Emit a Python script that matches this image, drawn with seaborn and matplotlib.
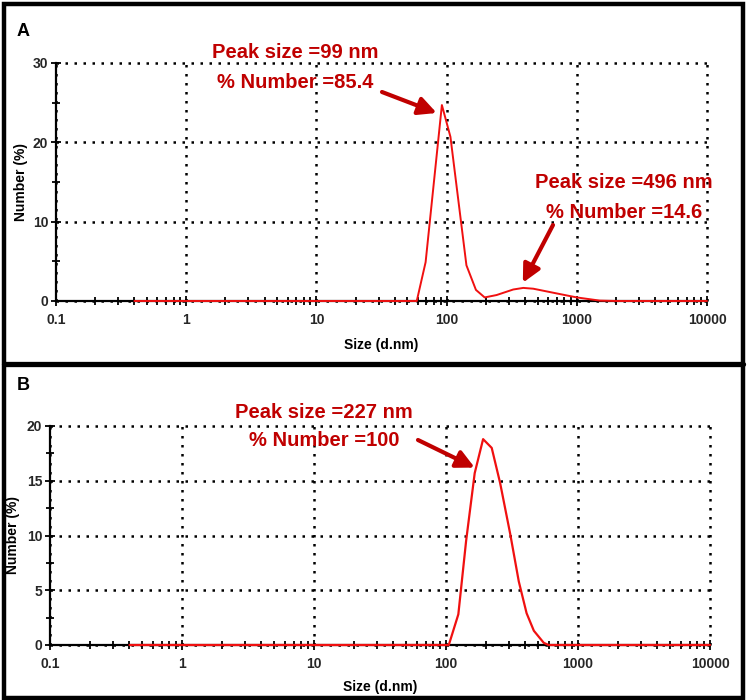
import numpy as np
import pandas as pd
import matplotlib
matplotlib.use("Agg")
import matplotlib.pyplot as plt
import matplotlib.ticker as mticker
from matplotlib.patches import Rectangle
from matplotlib.lines import Line2D
import seaborn as sns

size_a = [0.4, 1, 10, 50, 59, 69, 92, 107, 142, 168, 196, 242, 325, 388, 463, 703, 1000, 1500, 2000, 5000, 10000]
number_a = [0, 0, 0, 0, 0, 4.9, 24.7, 20.7, 4.5, 1.4, 0.45, 0.75, 1.45, 1.65, 1.55, 0.95, 0.45, 0.05, 0, 0, 0]

size_b = [0.4, 1, 10, 105, 124, 142, 165, 191, 222, 257, 307, 356, 408, 463, 550, 598, 1000, 10000]
number_b = [0, 0, 0, 0, 2.8, 9.5, 15.7, 18.8, 18.0, 14.8, 10.1, 5.8, 2.9, 1.3, 0.2, 0, 0, 0]

x_ticks = [0.1, 1, 10, 100, 1000, 10000]
x_ticklabels = ["0.1", "1", "10", "100", "1000", "10000"]

notes_a = ["Peak size =99 nm", "% Number =85.4"]
notes_a2 = ["Peak size =496 nm", "% Number =14.6"]
notes_b = ["Peak size =227 nm", "% Number =100"]

df_a = pd.DataFrame({"size": size_a, "number": number_a})
df_b = pd.DataFrame({"size": size_b, "number": number_b})

sns.set_theme(style="white")
plt.rcParams["font.family"] = ["Liberation Sans", "DejaVu Sans"]

W, H = 748, 700
fig = plt.figure(figsize=(W / 100, H / 100), dpi=100)

def px_axes(left, top, right, bottom):
    return fig.add_axes([left / W, 1 - bottom / H, (right - left) / W, (bottom - top) / H])

ax_a = px_axes(56, 63, 707, 301)
ax_b = px_axes(50, 426, 710, 645)

NOTE_RED = "#C00000"
LINE_RED = "#F01010"
note_font = dict(family=["Liberation Sans", "DejaVu Sans"],
                 fontsize=14.5, fontweight="bold", color=NOTE_RED)


def style_axes(ax, ymax, ystep, yminor, xlab_y, ylab_x):
    ax.set_xscale("log")
    ax.set_xlim(0.1, 10000)
    ax.set_ylim(0, ymax)
    ax.set_xticks(x_ticks)
    ax.set_xticklabels(x_ticklabels)
    ax.xaxis.set_minor_locator(mticker.LogLocator(base=10, subs=np.arange(2, 10), numticks=20))
    ax.xaxis.set_minor_formatter(mticker.NullFormatter())
    ax.set_yticks(np.arange(0, ymax + 0.1, ystep))
    ax.yaxis.set_minor_locator(mticker.MultipleLocator(yminor))
    ax.tick_params(axis="both", which="both", bottom=True, left=True, top=False, right=False)
    ax.tick_params(axis="both", which="major", direction="inout", length=7, width=1.3,
                   color="black", labelsize=10, pad=2)
    ax.tick_params(axis="both", which="minor", direction="inout", length=6, width=1.3, color="black")
    ax.tick_params(axis="x", which="major", pad=5)
    for lab in ax.get_xticklabels() + ax.get_yticklabels():
        lab.set_fontweight("bold")
    ax.grid(True, which="major", color="black", linestyle=(0, (1, 2.6)), linewidth=1.8)
    for gl in ax.get_xgridlines() + ax.get_ygridlines():
        gl.set_clip_on(False)
    for s in ["top", "right"]:
        ax.spines[s].set_visible(False)
    for s in ["left", "bottom"]:
        ax.spines[s].set_color("black")
        ax.spines[s].set_linewidth(1.6)
    ax.set_xlabel("Size (d.nm)", fontsize=10, fontweight="bold", color="black")
    ax.set_ylabel("Number (%)", fontsize=10, fontweight="bold", color="black")
    ax.xaxis.set_label_coords(0.5, xlab_y)
    ax.yaxis.set_label_coords(ylab_x, 0.5)
    ax.set_facecolor("white")


sns.lineplot(data=df_a, x="size", y="number", ax=ax_a, color=LINE_RED, linewidth=1.4, zorder=5)
sns.lineplot(data=df_b, x="size", y="number", ax=ax_b, color=LINE_RED, linewidth=1.6, zorder=5)

style_axes(ax_a, 30, 10, 5, -0.155, -0.043)
style_axes(ax_b, 20, 5, 2.5, -0.16, -0.045)

for ax in (ax_a, ax_b):
    for ln in ax.get_lines():
        ln.set_clip_on(False)

# --- annotations (text in figure pixels, arrow tips on the curves) ---
def note(ax, lines, cx, y1, y2, tail=None, tip=None):
    fig.text(cx / W, 1 - y1 / H, lines[0], ha="center", va="center", **note_font)
    fig.text(cx / W, 1 - y2 / H, lines[1], ha="center", va="center", **note_font)
    if tip is not None:
        ax.annotate("", xy=tip, xycoords="data",
                    xytext=(tail[0] / W, 1 - tail[1] / H), textcoords="figure fraction",
                    arrowprops=dict(arrowstyle="-|>,head_length=0.9,head_width=0.45",
                                    color=NOTE_RED, lw=3, shrinkA=0, shrinkB=0),
                    annotation_clip=False)

note(ax_a, notes_a, 295, 53, 83, tail=(382, 92), tip=(84, 23.7))
note(ax_a, notes_a2, 624, 183, 212, tail=(553, 225), tip=(385, 2.3))
note(ax_b, notes_b, 324, 413, 440, tail=(418, 440), tip=(165, 16.2))

fig.text(17 / W, 1 - 31 / H, "A", fontsize=13, fontweight="bold", color="black", ha="left", va="center")
fig.text(17 / W, 1 - 385 / H, "B", fontsize=13, fontweight="bold", color="black", ha="left", va="center")

# --- black panel frame ---
fig.add_artist(Rectangle((4 / W, 2 / H), 739 / W, 694 / H, transform=fig.transFigure,
                         fill=False, edgecolor="black", linewidth=3.2))
fig.add_artist(Line2D([4 / W, 743 / W], [1 - 364 / H, 1 - 364 / H], transform=fig.transFigure,
                      color="black", linewidth=3.8))

fig.savefig("out.png", dpi=100, facecolor="white")
